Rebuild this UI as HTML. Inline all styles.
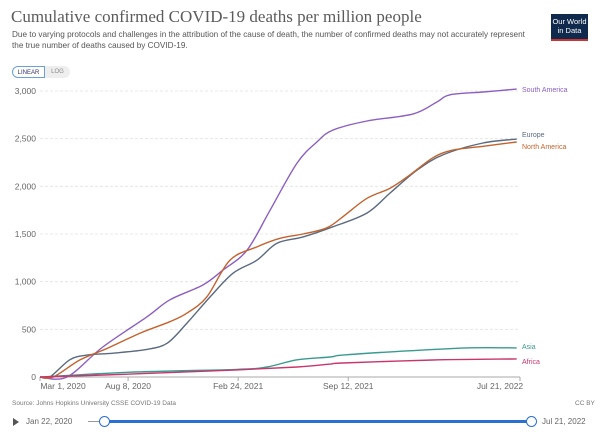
<!DOCTYPE html>
<html><head><meta charset="utf-8"><style>
body{margin:0;width:600px;height:443px;background:#fff;font-family:"Liberation Sans",sans-serif;overflow:hidden;position:relative}
.t{position:absolute;white-space:nowrap}
</style></head><body>
<div class="t" style="left:11px;top:7px;font-family:'Liberation Serif',serif;font-size:17px;color:#5b5b5b">Cumulative confirmed COVID-19 deaths per million people</div>
<div class="t" style="left:12px;top:29px;font-size:8.2px;color:#555;line-height:11px;white-space:normal;width:520px">Due to varying protocols and challenges in the attribution of the cause of death, the number of confirmed deaths may not accurately represent the true number of deaths caused by COVID-19.</div>
<div style="position:absolute;left:551px;top:14px;width:37px;height:27px;background:#0f2a4c;border-bottom:2px solid #c33;color:#fff;font-size:7.5px;text-align:center;line-height:9px;padding-top:3px;box-sizing:border-box">Our World<br>in Data</div>
<div style="position:absolute;left:12px;top:66px;width:33px;height:12px;border:1px solid #6aa0d8;border-radius:7px 0 0 7px;font-size:6px;color:#336;text-align:center;line-height:12px;box-sizing:border-box">LINEAR</div>
<div style="position:absolute;left:45px;top:66px;width:25px;height:12px;background:#eee;border-radius:0 7px 7px 0;font-size:6px;color:#888;text-align:center;line-height:12px">LOG</div>
<svg id="c" width="600" height="443" style="position:absolute;left:0;top:0"></svg>
<div class="t" style="left:12px;top:400px;font-size:6.5px;color:#777">Source: Johns Hopkins University CSSE COVID-19 Data</div>
<div class="t" style="left:575px;top:400px;font-size:6.5px;color:#777">CC BY</div>
<div style="position:absolute;left:13px;top:418px;width:0;height:0;border-left:6px solid #555;border-top:4px solid transparent;border-bottom:4px solid transparent"></div>
<div class="t" style="left:26px;top:417px;font-size:8px;color:#666">Jan 22, 2020</div>
<div style="position:absolute;left:88px;top:421px;width:16px;height:1px;background:#999"></div>
<div style="position:absolute;left:104px;top:420px;width:428px;height:3px;background:#2b6fd0"></div>
<div style="position:absolute;left:99px;top:416px;width:9px;height:9px;border:1.5px solid #2b6fd0;border-radius:50%;background:#fff"></div>
<div style="position:absolute;left:526px;top:416px;width:9px;height:9px;border:1.5px solid #2b6fd0;border-radius:50%;background:#fff"></div>
<div class="t" style="left:542px;top:417px;font-size:8px;color:#666">Jul 21, 2022</div>
<script>
const yTicks=[0,500,1000,1500,2000,2500,3000];
const yTickLabels=["0","500","1,000","1,500","2,000","2,500","3,000"];
const xTickDays=[0,160,360,560,872];
const xTickLabels=["Mar 1, 2020","Aug 8, 2020","Feb 24, 2021","Sep 12, 2021","Jul 21, 2022"];
const saDays=[0,49,114,194,236,296,332,376,418,467,503,532,594,678,721,745,805,866];
const saVals=[0,0,315,630,810,965,1120,1330,1750,2245,2465,2590,2685,2760,2885,2960,2990,3020];
const naDays=[0,24,73,122,182,236,267,303,345,394,436,478,521,550,594,636,672,714,750,805,866];
const naVals=[0,0,180,300,460,580,670,840,1225,1365,1455,1500,1565,1680,1875,1980,2120,2300,2380,2420,2465];
const euDays=[0,18,54,85,133,194,231,267,309,351,394,431,478,532,594,636,685,732,805,866];
const euVals=[0,0,180,230,250,290,355,565,840,1090,1225,1405,1470,1575,1720,1930,2170,2330,2455,2495];
const asDays=[0,163,358,412,467,527,550,654,776,866];
const asVals=[0,50,80,105,180,210,230,270,305,305];
const afDays=[0,163,358,467,527,550,714,866];
const afVals=[0,30,75,105,135,147,178,190];
const series=[
 {name:"south-america",label:"South America",d:saDays,v:saVals,c:"#8c5fc0",dy:0},
 {name:"europe",label:"Europe",d:euDays,v:euVals,c:"#5a6a80",dy:-5},
 {name:"north-america",label:"North America",d:naDays,v:naVals,c:"#c4622d",dy:4},
 {name:"asia",label:"Asia",d:asDays,v:asVals,c:"#3a9a8f",dy:-2},
 {name:"africa",label:"Africa",d:afDays,v:afVals,c:"#c8366c",dy:2}];
const X=d=>40+d*480/872, Y=v=>377-v*(286/3000);
const svg=document.getElementById('c'),NS="http://www.w3.org/2000/svg";
function mk(t,a,txt){const e=document.createElementNS(NS,t);for(const k in a)e.setAttribute(k,a[k]);if(txt!=null)e.textContent=txt;svg.appendChild(e);return e;}
function smooth(pts){let s='M'+pts[0][0]+','+pts[0][1];for(let i=0;i<pts.length-1;i++){const p0=pts[i-1]||pts[i],p1=pts[i],p2=pts[i+1],p3=pts[i+2]||p2;
 const c1x=p1[0]+(p2[0]-p0[0])/6,c1y=p1[1]+(p2[1]-p0[1])/6,c2x=p2[0]-(p3[0]-p1[0])/6,c2y=p2[1]-(p3[1]-p1[1])/6;
 s+=` C${c1x.toFixed(1)},${c1y.toFixed(1)} ${c2x.toFixed(1)},${c2y.toFixed(1)} ${p2[0].toFixed(1)},${p2[1].toFixed(1)}`;}return s;}
yTicks.forEach((t,i)=>{
 if(t>0){const g=mk('line',{x1:40,x2:520,y1:Y(t),y2:Y(t),stroke:'#e2e2e2','stroke-dasharray':'3,2','stroke-width':0.8});
 
 }
 const l=mk('text',{x:36,y:Y(t)+3,'text-anchor':'end','font-size':8.5,fill:'#666'},yTickLabels[i]);
 
 
});
const ax=mk('line',{x1:40,x2:520,y1:377,y2:377,stroke:'#aaa','stroke-width':1});


xTickDays.forEach((d,i)=>{
 const tk=mk('line',{x1:X(d),x2:X(d),y1:377,y2:381,stroke:'#aaa'});
 
 
 const l=mk('text',{x:i==0?X(d)+23:X(d)-(i==4?20:0),y:389,'text-anchor':'middle','font-size':8.5,fill:'#666'},xTickLabels[i]);
 
 
});
series.forEach(s=>{
 const pts=s.d.map((d,i)=>[X(d),Y(s.v[i])]);
 const pl=mk('path',{d:smooth(pts),fill:'none',stroke:s.c,'stroke-width':1.4,'stroke-linejoin':'round'});
 
 
 const last=s.v[s.v.length-1];
 const t=mk('text',{x:522,y:Y(last)+3+s.dy,'font-size':7,fill:s.c},s.label);
 
 
});
</script>
</body></html>
